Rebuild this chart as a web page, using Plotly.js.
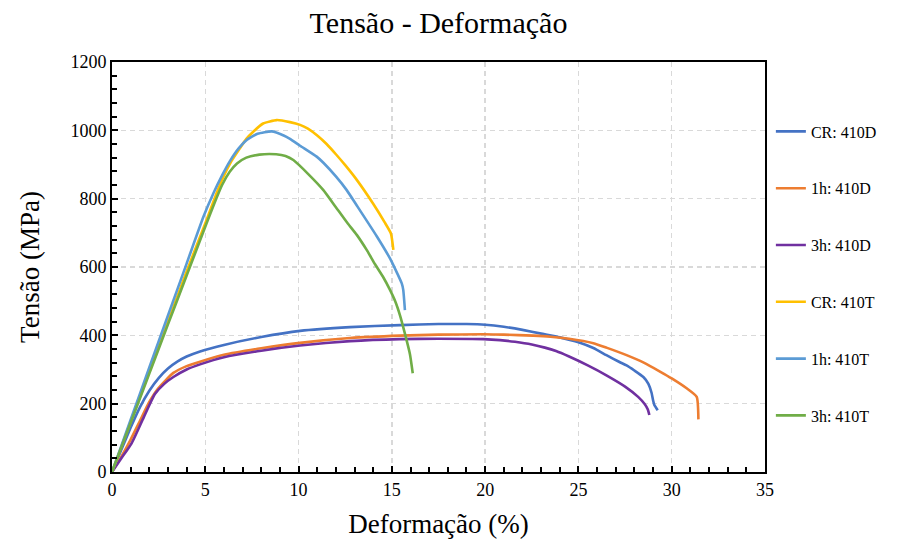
<!DOCTYPE html>
<html>
<head>
<meta charset="utf-8">
<script src="https://cdn.plot.ly/plotly-3.0.1.min.js"></script>
<style>
  html, body { margin: 0; padding: 0; background: #fff; }
  #chart { width: 901px; height: 543px; }
</style>
</head>
<body>
<div id="chart"></div>
<script>
// Curvas tensão-deformação (deformação em %, tensão em MPa)
const seriesNames = ["CR: 410D", "1h: 410D", "3h: 410D", "CR: 410T", "1h: 410T", "3h: 410T"];
const seriesColors = ["#4472C4", "#ED7D31", "#7030A0", "#FFC000", "#5B9BD5", "#70AD47"];

const cr410dX = [0, 0.5, 1.0, 1.5, 2.0, 2.5, 3.0, 3.5, 4.0, 4.72, 6, 8, 10.08, 12.76, 15.44, 17.5, 19.0, 20.0, 21.0, 22.0, 23.0, 24.0, 25.0, 25.8, 26.5, 27.2, 27.58, 28.0, 28.48, 28.75, 28.92, 29.0, 29.07, 29.25];
const cr410dY = [0, 65, 130, 190, 238, 275, 303, 323, 338, 353, 372, 395, 413, 424, 430, 433, 433, 431, 425, 416, 405, 394, 380, 363, 342, 322, 312, 297, 278, 258, 232, 210, 196, 181];

const h1410dX = [0, 0.5, 1.0, 1.5, 2.0, 2.48, 3.29, 4.0, 4.72, 6, 8, 10.08, 12.76, 15.44, 17.5, 19.9, 21.0, 22.58, 23.5, 24.5, 25.8, 26.5, 27.58, 28.5, 29.37, 30.0, 30.8, 31.34, 31.43];
const h1410dY = [0, 45, 95, 150, 205, 245, 290, 310, 323, 343, 362, 378, 392, 399, 402, 403, 402, 399, 396, 390, 377, 364, 342, 320, 294, 274, 245, 220, 154];

const h3410dX = [0, 0.5, 1.05, 1.7, 2.3, 2.8, 3.29, 4.0, 4.72, 6, 8, 10.08, 12.76, 15.44, 17.5, 19.9, 20.8, 21.6, 22.5, 23.2, 23.8, 24.5, 25.5, 26.5, 27.5, 28.2, 28.55, 28.72, 28.8];
const h3410dY = [0, 40, 84, 160, 228, 258, 278, 300, 315, 336, 355, 370, 383, 389, 390, 389, 386, 381, 373, 364, 354, 338, 312, 283, 250, 220, 199, 183, 167];

const cr410tX = [0, 1, 2, 3, 4, 5.07, 5.6, 5.97, 6.4, 6.86, 7.2, 7.57, 8.1, 8.83, 9.54, 10.08, 10.5, 11.0, 11.5, 12.0, 12.5, 13.12, 14.0, 14.6, 14.95, 15.08];
const cr410tY = [0, 147, 294, 440, 587, 738, 815, 864, 910, 948, 975, 996, 1020, 1030, 1024, 1016, 1005, 985, 960, 930, 898, 855, 785, 732, 698, 650];

const h1410tX = [0, 1, 2, 3, 4, 4.9, 5.43, 5.9, 6.32, 6.8, 7.22, 7.8, 8.56, 9.2, 9.54, 10.08, 10.97, 11.33, 12.0, 12.58, 13.12, 14.19, 14.9, 15.53, 15.61, 15.7];
const h1410tY = [0, 153, 306, 458, 610, 747, 815, 868, 910, 948, 972, 990, 997, 985, 975, 955, 923, 905, 865, 825, 780, 690, 625, 552, 533, 474];

const h3410tX = [0, 1, 2, 3, 4, 5.07, 5.5, 5.9, 6.3, 6.7, 7.2, 7.9, 8.8, 9.3, 9.72, 10.52, 11.33, 12.0, 12.6, 13.12, 13.65, 14.1, 14.54, 14.9, 15.2, 15.44, 15.7, 15.97, 16.12];
const h3410tY = [0, 144, 288, 432, 575, 728, 788, 840, 878, 903, 920, 929, 930, 925, 913, 872, 825, 775, 730, 694, 650, 608, 570, 533, 497, 458, 405, 345, 289];

const xTitle = "Deformação (%)";
const yTitle = "Tensão (MPa)";
const chartTitle = "Tensão - Deformação";

const xs = [cr410dX, h1410dX, h3410dX, cr410tX, h1410tX, h3410tX];
const ys = [cr410dY, h1410dY, h3410dY, cr410tY, h1410tY, h3410tY];

const serif = "Liberation Serif";

const traces = seriesNames.map((name, i) => ({
  type: "scatter",
  mode: "lines",
  name: name,
  x: xs[i],
  y: ys[i],
  legendgroup: "g" + i,
  line: { color: seriesColors[i], width: 2.6, shape: "spline", smoothing: 0.5 }
}));

const layout = {
  width: 901,
  height: 543,
  margin: { l: 112, r: 136, t: 62, b: 71 },
  paper_bgcolor: "#ffffff",
  plot_bgcolor: "#ffffff",
  font: { family: serif, color: "#000000" },
  title: {
    text: chartTitle,
    font: { family: serif, size: 30, color: "#000000" },
    xref: "paper", x: 0.5, xanchor: "center",
    yref: "container", y: 1 - 22 / 543, yanchor: "middle"
  },
  showlegend: true,
  legend: {
    x: 1.009, xanchor: "left",
    y: 0.872, yanchor: "top",
    traceorder: "grouped",
    tracegroupgap: 33,
    font: { family: serif, size: 16, color: "#000000" },
    bgcolor: "rgba(0,0,0,0)"
  },
  xaxis: {
    range: [0, 35], dtick: 5, tick0: 0,
    showline: true, linecolor: "#000000", linewidth: 2, mirror: true,
    ticks: "inside", ticklen: 6, tickwidth: 2, tickcolor: "#000000",
    minor: { dtick: 1, ticks: "inside", ticklen: 5, tickwidth: 2, tickcolor: "#000000", showgrid: false },
    showgrid: true, gridcolor: "#D9D9D9", gridwidth: 1.3, griddash: "5px,4px",
    zeroline: false,
    tickfont: { family: serif, size: 18, color: "#000000" },
    title: { text: xTitle, font: { family: serif, size: 27, color: "#000000" }, standoff: 16 }
  },
  yaxis: {
    range: [0, 1200], dtick: 200, tick0: 0,
    showline: true, linecolor: "#000000", linewidth: 2, mirror: true,
    ticks: "inside", ticklen: 6, tickwidth: 2, tickcolor: "#000000",
    minor: { dtick: 40, ticks: "inside", ticklen: 5, tickwidth: 2, tickcolor: "#000000", showgrid: false },
    showgrid: true, gridcolor: "#D9D9D9", gridwidth: 1.3, griddash: "5px,4px",
    zeroline: false,
    tickfont: { family: serif, size: 18, color: "#000000" },
    title: { text: yTitle, font: { family: serif, size: 27, color: "#000000" }, standoff: 23 }
  },
  // eixos sobrepostos só para o lado externo das marcas principais (marcas cruzadas)
  xaxis2: {
    overlaying: "x", anchor: "y", side: "bottom",
    range: [0, 35], dtick: 5, tick0: 0,
    showline: false, showgrid: false, zeroline: false, showticklabels: false,
    ticks: "outside", ticklen: 5, tickwidth: 2, tickcolor: "#000000"
  },
  yaxis2: {
    overlaying: "y", anchor: "x", side: "left",
    range: [0, 1200], dtick: 200, tick0: 0,
    showline: false, showgrid: false, zeroline: false, showticklabels: false,
    ticks: "outside", ticklen: 5, tickwidth: 2, tickcolor: "#000000"
  }
};

Plotly.newPlot("chart", traces, layout, { displayModeBar: false, staticPlot: true });
</script>
</body>
</html>
